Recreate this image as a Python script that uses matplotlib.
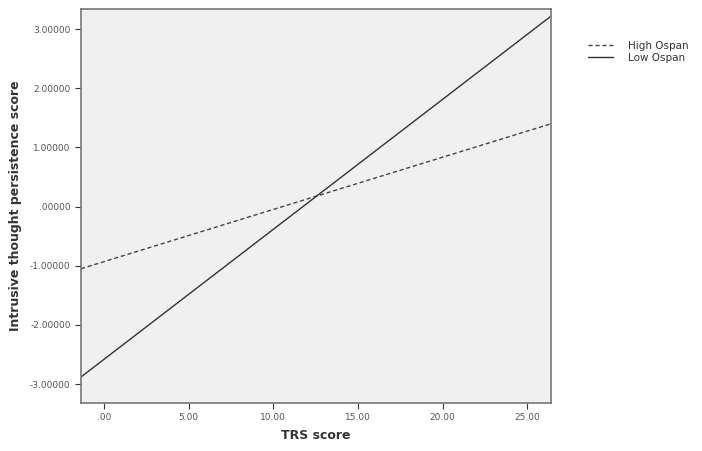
import matplotlib.pyplot as plt
import numpy as np

# TRS score endpoints and predicted intrusive thought persistence
trs = [-1.36, 26.4]
high_ospan = [-1.05, 1.40]
low_ospan = [-2.88, 3.22]

xticks = [0, 5, 10, 15, 20, 25]
xlabels = ['.00', '5.00', '10.00', '15.00', '20.00', '25.00']
yticks = [-3, -2, -1, 0, 1, 2, 3]
ylabels = ['-3.00000', '-2.00000', '-1.00000', '.00000', '1.00000', '2.00000', '3.00000']

fig = plt.figure(figsize=(7.02, 4.51), dpi=100)
ax = fig.add_axes([0.1154, 0.1064, 0.6695, 0.8736])
ax.set_facecolor('#f0f0f0')

ax.plot(trs, high_ospan, color='#444444', linestyle=(0, (3, 2)), linewidth=1.0, label='High Ospan')
ax.plot(trs, low_ospan, color='#333333', linestyle='-', linewidth=1.0, label='Low Ospan')

ax.set_xlim(-1.36, 26.4)
ax.set_ylim(-3.32, 3.34)
ax.set_xticks(xticks)
ax.set_xticklabels(xlabels, fontsize=6.5, color='#555555')
ax.set_yticks(yticks)
ax.set_yticklabels(ylabels, fontsize=6.5, color='#555555')
ax.tick_params(length=4, width=0.8, color='#333333')

for sp in ax.spines.values():
    sp.set_color('#777777')
    sp.set_linewidth(1.2)

ax.set_xlabel('TRS score', fontsize=9, fontweight='bold', color='#333333', labelpad=5)
ax.set_ylabel('Intrusive thought persistence score', fontsize=9, fontweight='bold', color='#333333', labelpad=6)

leg = ax.legend(loc='upper left', bbox_to_anchor=(1.07, 0.93), frameon=False, fontsize=7.5,
                handlelength=2.4, handletextpad=1.4, labelspacing=0.2, borderaxespad=0)
for t in leg.get_texts():
    t.set_color('#333333')

fig.savefig('out.png', dpi=100, facecolor='white')
